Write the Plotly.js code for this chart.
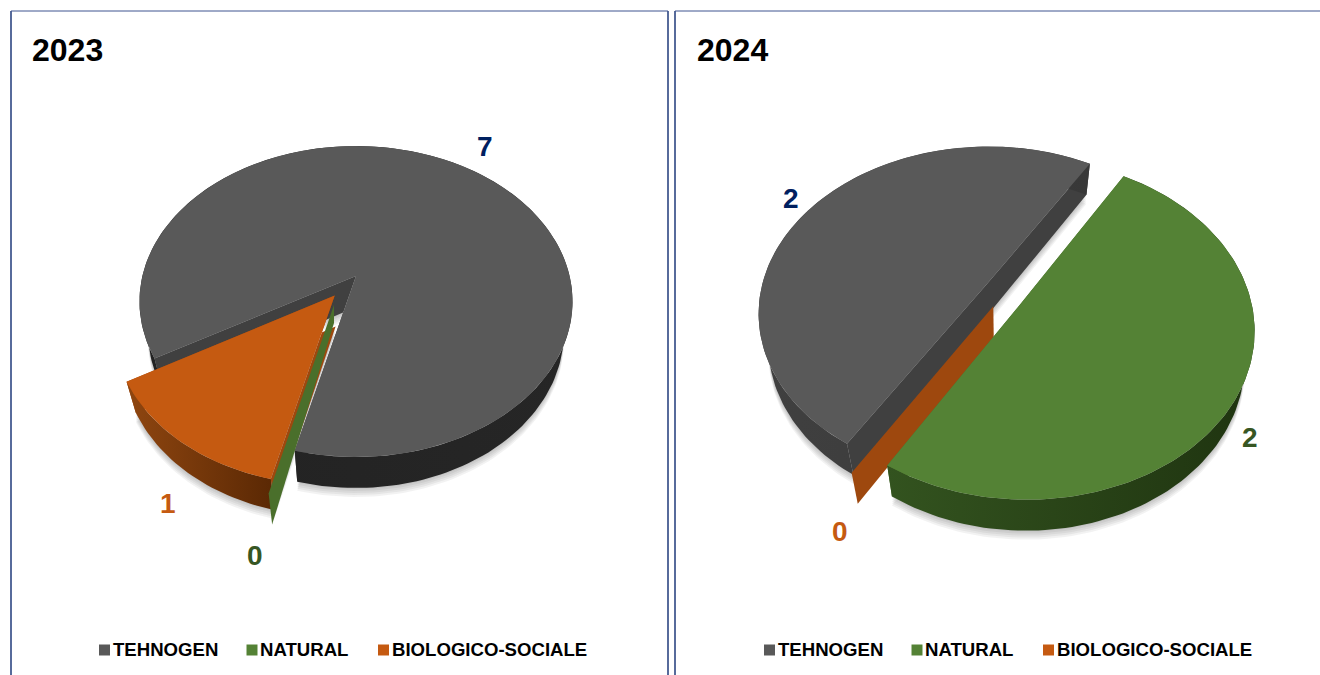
<!DOCTYPE html>
<html><head><meta charset="utf-8">
<script src="https://cdn.plot.ly/plotly-3.0.1.min.js"></script>
<style>html,body{margin:0;padding:0;background:#fff}#c{width:1320px;height:675px}</style>
</head><body><div id="c"></div>
<script>
// ---- data ----
const categories = ["TEHNOGEN", "NATURAL", "BIOLOGICO-SOCIALE"];
const years = ["2023", "2024"];
const values2023 = [7, 0, 1];
const values2024 = [2, 2, 0];
const explode2023 = [0, 0.21, 0.16];
const explode2024 = [0.095, 0.095, 0.095];
// ---- style ----
const topColors = ["#595959", "#548235", "#C55A11"];
const labelColors = ["#002060", "#375623", "#C55A11"];
const innerWall = ["#404040", "#4a6f2b", "#9E480E"];
const rimWalls2023 = [["#222222", "#262626"], ["#3a5a22", "#3a5a22"], ["#8f4610", "#5a2804"]];
const rimWalls2024 = [["#404040", "#383838"], ["#33531f", "#1f3410"], ["#9E480E", "#9E480E"]];
const SLIVER = 1.2, DEPTH = 31, K = 0.164, BOTTOM_X = 0.96;

const charts = [
  {year: years[0], values: values2023, explode: explode2023, rim: rimWalls2023, start: 240, trim: [0, 0, -1.9], trimEnd: [0, 1, 0],
   sliverApex: [334, 305], sliverApexDepth: 18,
   cx: 356, cy: 276, R: 213.6, S: 151.3, xa: "x", ya: "y",
   labelPos: [[485, 146.5], [255, 555], [168, 503]], titleX: 32, legendX: [104.5, 252, 383.5]},
  {year: years[1], values: values2024, explode: explode2024, rim: rimWalls2024, start: 211.6, trim: [0, 0, 0], trimEnd: [0, 1.2, 0],
   sliverApex: null, sliverApexDepth: DEPTH,
   cx: 1004.5, cy: 292.8, R: 226, S: 163.4, xa: "x2", ya: "y2",
   labelPos: [[791, 198.5], [1249.5, 437], [840, 531]], titleX: 697, legendX: [769.5, 917, 1048.5]}
];

const rad = d => d * Math.PI / 180;
const traces = [], annotations = [];

charts.forEach(c => {
  const total = c.values.reduce((a, b) => a + b, 0);
  const nz = c.values.filter(v => v === 0).length;
  const free = 360 - nz * SLIVER;
  let a = c.start;
  const slices = c.values.map((v, i) => {
    const span = v === 0 ? SLIVER : v / total * free;
    const s = {i, a0: a, a1: a + span, mid: a + span / 2, e: c.explode[i]};
    s.a0 += c.trim[i];
    s.a1 += c.trimEnd[i];
    a += span; return s;
  });
  const proj = (s, ang, r) => {
    const mid = rad(s.mid);
    const u = r * Math.sin(rad(ang)) + s.e * Math.sin(mid);
    const v = -r * Math.cos(rad(ang)) - s.e * Math.cos(mid);
    const w = 1 - K * v;
    return [c.cx + c.R * u / w, c.cy + c.S * v / w];
  };
  const low = (p, extra) => [c.cx + (p[0] - c.cx) * BOTTOM_X, p[1] + DEPTH + (extra || 0)];
  const arc = s => {
    const pts = [], n = Math.max(2, Math.ceil((s.a1 - s.a0) / 1.5));
    for (let j = 0; j <= n; j++) pts.push(proj(s, s.a0 + (s.a1 - s.a0) * j / n, 1));
    return pts;
  };
  const poly = (pts, color, grad) => {
    const t = {type: "scatter", mode: "lines", xaxis: c.xa, yaxis: c.ya,
      x: pts.map(p => p[0]).concat([pts[0][0]]), y: pts.map(p => p[1]).concat([pts[0][1]]),
      fill: "toself", line: {width: 0}, hoverinfo: "skip", showlegend: false};
    if (grad) t.fillgradient = {type: "horizontal", colorscale: [[0, grad[0]], [1, grad[1]]]};
    else t.fillcolor = color;
    traces.push(t);
  };
  // soft shadow under the pie
  const drawOrder = [0, 2, 1];
  [9, 7, 5, 3, 1].forEach(d => {
    drawOrder.forEach(i => {
      const s = slices[i];
      if (c.values[i] === 0) return;
      const pts = arc(s).map(p => low(p, d));
      pts.push(low(proj(s, s.a0, 0), d));
      poly(pts, "rgba(0,0,0,0.05)");
    });
  });
  drawOrder.forEach(i => {
    const s = slices[i];
    const r = arc(s);
    const rFirst = r[0], rLast = r[r.length - 1];
    if (c.values[i] === 0) {
      // a zero slice only shows as one thin side wall
      const apex = c.sliverApex || proj(s, s.a0, 0);
      const apexLow = c.sliverApex ? [apex[0], apex[1] + c.sliverApexDepth] : low(apex);
      poly([apex, rLast, low(rLast), apexLow], innerWall[i]);
    } else {
      const apex = proj(s, s.a0, 0);
      // radial walls, as one strip
      poly([rFirst, apex, rLast, low(rLast), low(apex), low(rFirst)], innerWall[i]);
      // rim wall
      poly(r.concat(r.slice().reverse().map(p => low(p))), null, c.rim[i]);
      // top face
      poly([apex].concat(r), topColors[i]);
    }
  });
  // value labels
  c.values.forEach((v, i) => annotations.push({
    xref: c.xa, yref: c.ya, x: c.labelPos[i][0], y: c.labelPos[i][1], text: String(v), showarrow: false,
    xanchor: "center", yanchor: "middle", font: {family: "Liberation Sans, Arial", size: 28, color: labelColors[i], weight: 700}
  }));
  // title
  annotations.push({xref: c.xa, yref: c.ya, x: c.titleX - 2, y: 50, text: c.year, showarrow: false,
    xanchor: "left", yanchor: "middle", font: {family: "Liberation Sans, Arial", size: 32, color: "#000", weight: 700}});
  // legend
  traces.push({type: "scatter", mode: "markers", xaxis: c.xa, yaxis: c.ya, x: c.legendX, y: [650, 650, 650],
    text: categories, hoverinfo: "text", showlegend: false,
    marker: {symbol: "square", size: 11, color: topColors, line: {width: 0}}});
  categories.forEach((name, i) => annotations.push({
    xref: c.xa, yref: c.ya, x: c.legendX[i] + 7, y: 649.5, text: name, showarrow: false,
    xanchor: "left", yanchor: "middle", borderpad: 0,
    font: {family: "Liberation Sans, Arial", size: 18.6, color: "#000", weight: 700}
  }));
});

const W = 1320, H = 675;
const axis = (dom, range) => ({domain: dom, range, visible: false, fixedrange: true});
const line = (x0, y0, x1, y1, w, col) => ({type: "line", xref: "paper", yref: "paper",
  x0: x0 / W, x1: x1 / W, y0: 1 - y0 / H, y1: 1 - y1 / H, line: {color: col, width: w}, layer: "above"});
const layout = {
  width: W, height: H, autosize: false, margin: {l: 0, r: 0, t: 0, b: 0},
  paper_bgcolor: "#fff", plot_bgcolor: "rgba(0,0,0,0)", showlegend: false,
  xaxis: axis([11 / W, 668 / W], [11, 668]),
  yaxis: axis([0, 1 - 11 / H], [675, 11]),
  xaxis2: axis([675 / W, 1], [675, 1320]),
  yaxis2: axis([0, 1 - 11 / H], [675, 11]),
  annotations,
  shapes: [
    line(11, 11, 11, 675, 1.5, "#1F3A7A"), line(668, 11, 668, 675, 1.5, "#1F3A7A"), line(675, 11, 675, 675, 1.5, "#1F3A7A"),
    line(11, 11, 668, 11, 1, "#3F5590"), line(675, 11, 1320, 11, 1, "#3F5590")
  ]
};
Plotly.newPlot("c", traces, layout, {displayModeBar: false, staticPlot: true});
</script></body></html>
